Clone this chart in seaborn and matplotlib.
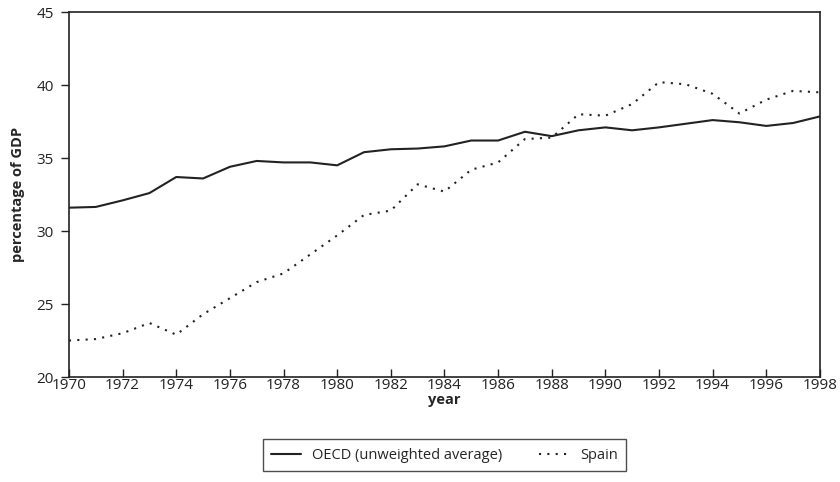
import matplotlib
matplotlib.use('Agg')
import matplotlib.pyplot as plt
import seaborn as sns
import pandas as pd

years = list(range(1970, 1999))
oecd = [31.6, 31.65, 32.1, 32.6, 33.7, 33.6, 34.4, 34.8, 34.7, 34.7,
        34.5, 35.4, 35.6, 35.65, 35.8, 36.2, 36.2, 36.8, 36.5, 36.9,
        37.1, 36.9, 37.1, 37.35, 37.6, 37.45, 37.2, 37.4, 37.85]
spain = [22.5, 22.6, 23.0, 23.7, 22.9, 24.3, 25.4, 26.5, 27.1, 28.4,
         29.7, 31.1, 31.4, 33.2, 32.7, 34.2, 34.7, 36.3, 36.4, 38.0,
         37.9, 38.7, 40.2, 40.05, 39.4, 38.05, 39.0, 39.6, 39.5]
series_names = ['OECD (unweighted average)', 'Spain']
x_ticks = list(range(1970, 1999, 2))
y_ticks = [20, 25, 30, 35, 40, 45]

df = pd.DataFrame({
    'year': years * 2,
    'value': oecd + spain,
    'series': [series_names[0]] * len(years) + [series_names[1]] * len(years),
})

sns.set_style('ticks')
plt.rcParams['font.family'] = ['Open Sans', 'DejaVu Sans']

fig = plt.figure(figsize=(8.4, 4.82), dpi=100)
ax = fig.add_axes([0.0821, 0.2178, 0.8940, 0.7572])

sns.lineplot(data=df, x='year', y='value', hue='series', style='series',
             palette=['#222222', '#222222'],
             dashes={series_names[0]: '', series_names[1]: (1, 3)},
             linewidth=1.5, ax=ax)

ax.set_xlim(1970, 1998)
ax.set_ylim(20, 45)
ax.set_xticks(x_ticks)
ax.set_yticks(y_ticks)
ax.tick_params(axis='x', direction='in', length=6, width=1, labelsize=11, pad=1, colors='#222222')
ax.tick_params(axis='y', direction='out', length=6, width=1, labelsize=11, pad=5, colors='#222222')
for s in ax.spines.values():
    s.set_color('#222222')
    s.set_linewidth(1.2)

ax.set_xlabel('year', fontweight='bold', fontsize=10.5, labelpad=0)
ax.set_ylabel('percentage of GDP', fontweight='bold', fontsize=10.5, labelpad=8)

handles, labels = ax.get_legend_handles_labels()
leg = ax.legend(handles, labels, loc='center', bbox_to_anchor=(0.5, -0.214),
                ncol=2, frameon=True, fancybox=False, edgecolor='#222222',
                fontsize=10.5, handlelength=2.0, columnspacing=2.5,
                borderpad=0.6)
leg.get_frame().set_linewidth(1.0)

fig.savefig('out.png', dpi=100)
plt.close(fig)
